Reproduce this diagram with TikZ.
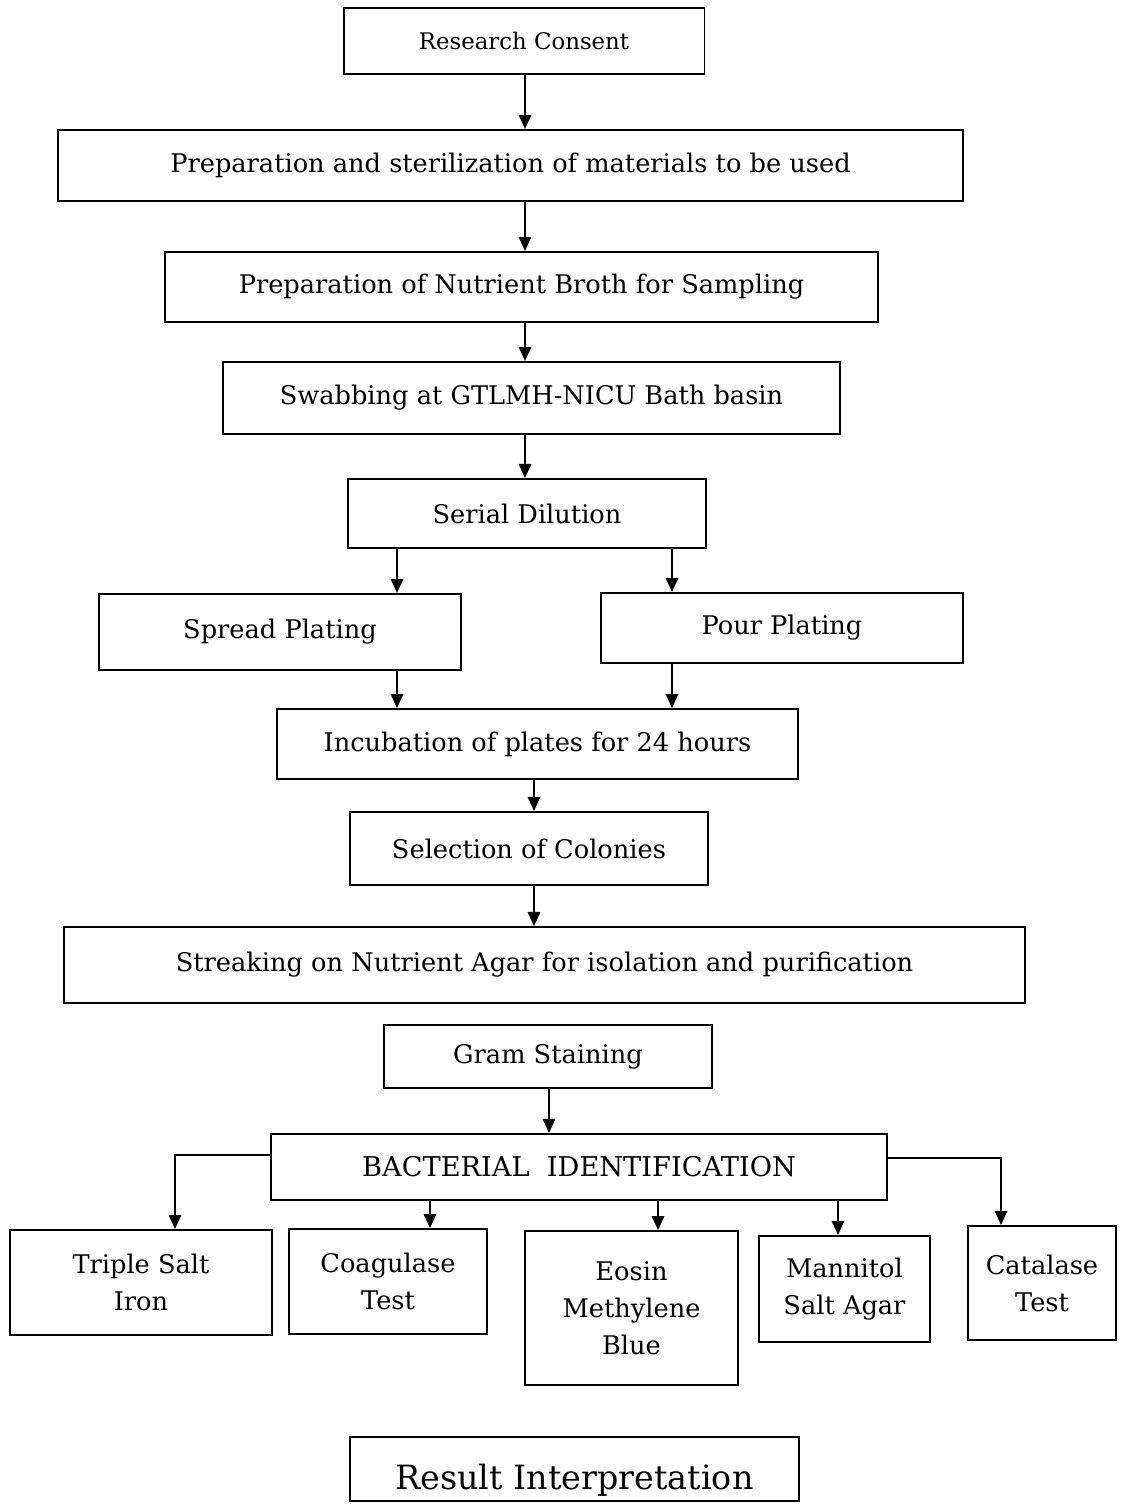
\documentclass[tikz,border=0pt]{standalone}
\usepackage{fontspec}
\setmainfont{DejaVu Serif}
\usetikzlibrary{arrows.meta}

\tikzset{
  stepbox/.style={draw, line width=1.1pt, inner sep=0pt, align=center,
    font=\fontsize{14.6}{21}\selectfont},
  arr/.style={-{Triangle[length=8pt,width=7pt]}, line width=1.2pt}
}

\begin{document}
\begin{tikzpicture}[x=0.02cm,y=-0.02cm]
    \useasboundingbox (0,0) rectangle (1120,1505);

    % main column
    \node[stepbox, minimum width=7.22cm, minimum height=1.32cm, font=\fontsize{13}{17}\selectfont] (consent) at (524,41) {Research Consent};
    \node[stepbox, minimum width=18.1cm, minimum height=1.42cm] (prep) at (510.5,165.5) {Preparation and sterilization of materials to be used};
    \node[stepbox, minimum width=14.26cm, minimum height=1.4cm] (broth) at (521.5,287) {Preparation of Nutrient Broth for Sampling};
    \node[stepbox, minimum width=12.34cm, minimum height=1.44cm] (swab) at (531.5,398) {Swabbing at GTLMH-NICU Bath basin};
    \node[stepbox, minimum width=7.16cm, minimum height=1.38cm] (serial) at (527,513.5) {Serial Dilution};
    \node[stepbox, minimum width=7.24cm, minimum height=1.52cm] (spread) at (280,632) {Spread Plating};
    \node[stepbox, minimum width=7.24cm, minimum height=1.4cm] (pour) at (782,628) {Pour Plating};
    \node[stepbox, minimum width=10.42cm, minimum height=1.4cm] (incub) at (537.5,744) {Incubation of plates for 24 hours};
    \node[stepbox, minimum width=7.16cm, minimum height=1.46cm] (select) at (529,848.5) {Selection of Colonies};
    \node[stepbox, minimum width=19.22cm, minimum height=1.52cm] (streak) at (544.5,965) {Streaking on Nutrient Agar for isolation and purification};
    \node[stepbox, minimum width=6.56cm, minimum height=1.26cm] (gram) at (548,1056.5) {Gram Staining};
    \node[stepbox, minimum width=12.32cm, minimum height=1.32cm, font=\fontsize{15.5}{21}\selectfont] (bact) at (579,1167) {BACTERIAL\ \ IDENTIFICATION};

    % tests
    \node[stepbox, minimum width=5.24cm, minimum height=2.1cm] (tsi) at (141,1282.5) {Triple Salt\\Iron};
    \node[stepbox, minimum width=3.96cm, minimum height=2.1cm] (coag) at (388,1281.5) {Coagulase\\Test};
    \node[stepbox, minimum width=4.26cm, minimum height=3.08cm] (emb) at (631.5,1308) {Eosin\\Methylene\\Blue};
    \node[stepbox, minimum width=3.42cm, minimum height=2.12cm] (msa) at (844.5,1289) {Mannitol\\Salt Agar};
    \node[stepbox, minimum width=2.96cm, minimum height=2.28cm] (cat) at (1042,1283) {Catalase\\Test};

    \node[stepbox, minimum width=8.98cm, minimum height=1.28cm, font=\fontsize{19}{21}\selectfont] (result) at (574.5,1469) {\raisebox{-0.4cm}[0pt][0pt]{Result Interpretation}};

    % arrow columns
    \coordinate (topx) at (525,0);
    \coordinate (midx) at (534,0);
    \coordinate (spx) at (397,0);
    \coordinate (pox) at (672,0);
    \coordinate (grx) at (549,0);
    \coordinate (cox) at (430,0);
    \coordinate (ebx) at (658,0);
    \coordinate (msx) at (838,0);
    \coordinate (tl) at (175,1155);
    \coordinate (tr) at (1001,1158);

    \draw[arr] (consent.south -| topx) -- (prep.north -| topx);
    \draw[arr] (prep.south -| topx) -- (broth.north -| topx);
    \draw[arr] (broth.south -| topx) -- (swab.north -| topx);
    \draw[arr] (swab.south -| topx) -- (serial.north -| topx);
    \draw[arr] (serial.south -| spx) -- (spread.north -| spx);
    \draw[arr] (serial.south -| pox) -- (pour.north -| pox);
    \draw[arr] (spread.south -| spx) -- (incub.north -| spx);
    \draw[arr] (pour.south -| pox) -- (incub.north -| pox);
    \draw[arr] (incub.south -| midx) -- (select.north -| midx);
    \draw[arr] (select.south -| midx) -- (streak.north -| midx);
    \draw[arr] (gram.south -| grx) -- (bact.north -| grx);

    \draw[arr] (tl -| bact.west) -- (tl) -- (tsi.north -| tl);
    \draw[arr] (bact.south -| cox) -- (coag.north -| cox);
    \draw[arr] (bact.south -| ebx) -- (emb.north -| ebx);
    \draw[arr] (bact.south -| msx) -- (msa.north -| msx);
    \draw[arr] (tr -| bact.east) -- (tr) -- (cat.north -| tr);
\end{tikzpicture}
\end{document}
